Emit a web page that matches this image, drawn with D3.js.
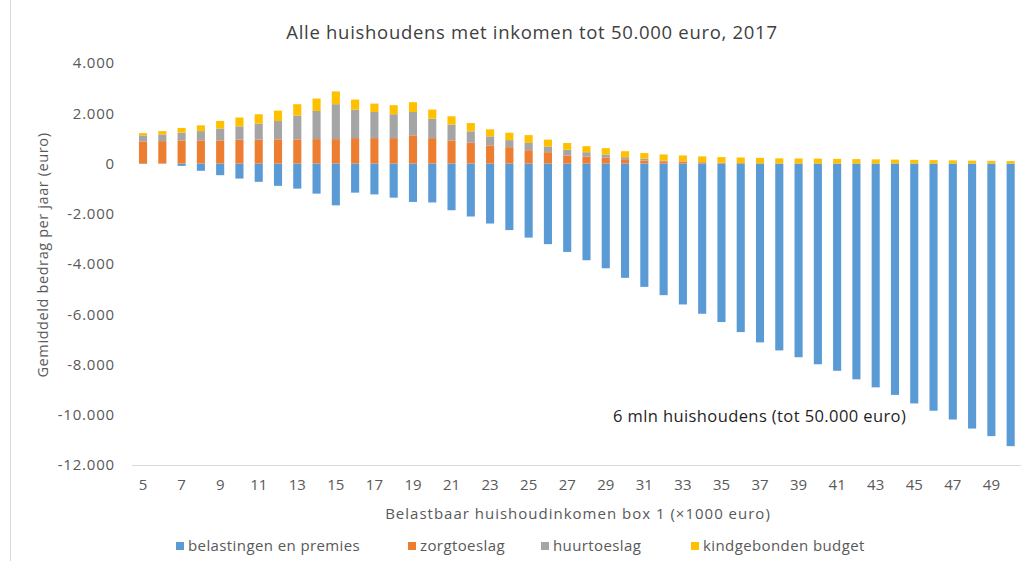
<!DOCTYPE html>
<html>
<head>
<meta charset="utf-8">
<script src="https://cdn.jsdelivr.net/npm/d3@7"></script>
<style>
  body { margin: 0; background: #fff; }
  svg text { font-family: "Open Sans", "Noto Sans", sans-serif; }
</style>
</head>
<body>
<div id="chart"></div>
<script>
// chart size
const width = 1025;
const height = 561;

// data (euro per year)
const inkomen = [5,6,7,8,9,10,11,12,13,14,15,16,17,18,19,20,21,22,23,24,25,26,27,28,29,30,
  31,32,33,34,35,36,37,38,39,40,41,42,43,44,45,46,47,48,49,50];

const belastingen = [-20,-10,-95,-290,-465,-600,-730,-890,-1000,-1200,-1665,-1160,-1230,-1360,-1530,-1550,
  -1860,-2110,-2390,-2650,-2950,-3210,-3520,-3850,-4170,-4550,-4910,-5240,-5610,-5980,
  -6310,-6710,-7120,-7440,-7710,-7990,-8250,-8590,-8910,-9210,-9550,-9840,-10190,-10550,-10850,-11250];

const zorgtoeslag = [880,890,920,920,920,950,950,960,960,970,970,1010,1010,1010,1120,1010,
  920,830,720,650,530,450,320,280,230,170,120,90,80,50,30,20,10,0,0,0,0,0,0,0,0,0,0,0,0,0];

const huurtoeslag = [240,270,310,370,470,530,640,730,950,1120,1390,1135,1040,950,930,775,
  630,450,360,280,290,230,230,170,130,80,70,30,10,5,0,0,0,0,0,0,0,0,0,0,0,0,0,0,0,0];

const kindgebonden = [90,130,185,230,305,350,370,415,450,495,510,400,335,360,390,360,
  330,330,280,295,310,270,265,240,250,240,225,240,230,230,225,220,215,205,200,195,
  185,175,165,155,145,135,125,115,105,100];

const seriesNames = ["belastingen en premies", "zorgtoeslag", "huurtoeslag", "kindgebonden budget"];
const seriesKeys = ["belasting", "zorg", "huur", "kind"];
const colors = ["#5b9bd5", "#ed7d31", "#a5a5a5", "#ffc000"];

const yTicks = [4000, 2000, 0, -2000, -4000, -6000, -8000, -10000, -12000];
const xTickLabels = [5,7,9,11,13,15,17,19,21,23,25,27,29,31,33,35,37,39,41,43,45,47,49];

// build table for d3.stack
const table = inkomen.map((k, i) => ({
  inkomen: k,
  belasting: belastingen[i],
  zorg: zorgtoeslag[i],
  huur: huurtoeslag[i],
  kind: kindgebonden[i]
}));

const nl = d3.formatLocale({decimal: ",", thousands: ".", grouping: [3], currency: ["€", ""], minus: "-"});
const fmt = nl.format(",d");

const svg = d3.select("#chart").append("svg")
  .attr("width", width)
  .attr("height", height);

// light frame edge on the left
svg.append("line")
  .attr("x1", 10.5).attr("x2", 10.5)
  .attr("y1", 0).attr("y2", height)
  .attr("stroke", "#d9d9d9");

const x = d3.scaleBand()
  .domain(inkomen)
  .range([133.4, 1020.3])
  .paddingInner(0.58)
  .paddingOuter(0.29);

const y = d3.scaleLinear()
  .domain([-12000, 4000])
  .range([465, 63]);

const stack = d3.stack()
  .keys(seriesKeys)
  .offset(d3.stackOffsetDiverging);
const stacked = stack(table);

// bars
svg.append("g")
  .selectAll("g")
  .data(stacked)
  .join("g")
  .attr("fill", (d, i) => colors[i])
  .selectAll("rect")
  .data(d => d)
  .join("rect")
  .attr("x", d => x(d.data.inkomen))
  .attr("width", x.bandwidth())
  .attr("y", d => y(Math.max(d[0], d[1])))
  .attr("height", d => Math.abs(y(d[0]) - y(d[1])));

// y axis labels
const yAxis = svg.append("g")
  .attr("transform", "translate(124,0)")
  .call(d3.axisLeft(y).tickValues(yTicks).tickFormat(fmt).tickSize(0).tickPadding(9));
yAxis.select(".domain").remove();
yAxis.selectAll("text")
  .attr("fill", "#595959")
  .attr("font-size", 15)
  .attr("letter-spacing", 0.8);

// x axis
const xAxis = svg.append("g")
  .attr("transform", "translate(0,465.5)")
  .call(d3.axisBottom(x).tickValues(xTickLabels).tickSize(0).tickPadding(14));
xAxis.select(".domain")
  .attr("stroke", "#d9d9d9")
  .attr("d", "M132,0H1021");
xAxis.selectAll("text")
  .attr("fill", "#595959")
  .attr("font-size", 15);

// title
svg.append("text")
  .attr("x", 532)
  .attr("y", 39)
  .attr("text-anchor", "middle")
  .attr("font-size", 18.5)
  .attr("letter-spacing", 0.7)
  .attr("fill", "#404040")
  .text("Alle huishoudens met inkomen tot 50.000 euro, 2017");

// axis titles
svg.append("text")
  .attr("x", 578)
  .attr("y", 519)
  .attr("text-anchor", "middle")
  .attr("font-size", 15)
  .attr("letter-spacing", 1)
  .attr("fill", "#595959")
  .text("Belastbaar huishoudinkomen box 1  (×1000 euro)");

svg.append("text")
  .attr("transform", "translate(48,255) rotate(-90)")
  .attr("text-anchor", "middle")
  .attr("font-size", 14.5)
  .attr("letter-spacing", 0.6)
  .attr("fill", "#595959")
  .text("Gemiddeld bedrag per jaar (euro)");

// annotation
svg.append("text")
  .attr("x", 613)
  .attr("y", 422)
  .attr("font-size", 16.5)
  .attr("letter-spacing", 0.4)
  .attr("fill", "#1f1f1f")
  .text("6 mln huishoudens  (tot 50.000 euro)");

// legend
const legendX = [176, 408, 541, 691];
const legend = svg.append("g")
  .selectAll("g")
  .data(seriesNames)
  .join("g")
  .attr("transform", (d, i) => `translate(${legendX[i]},546)`);
legend.append("rect")
  .attr("x", 0).attr("y", -4)
  .attr("width", 8).attr("height", 8)
  .attr("fill", (d, i) => colors[i]);
legend.append("text")
  .attr("x", 12)
  .attr("y", 5)
  .attr("font-size", 15)
  .attr("letter-spacing", 0.4)
  .attr("fill", "#595959")
  .text(d => d);
</script>
</body>
</html>
